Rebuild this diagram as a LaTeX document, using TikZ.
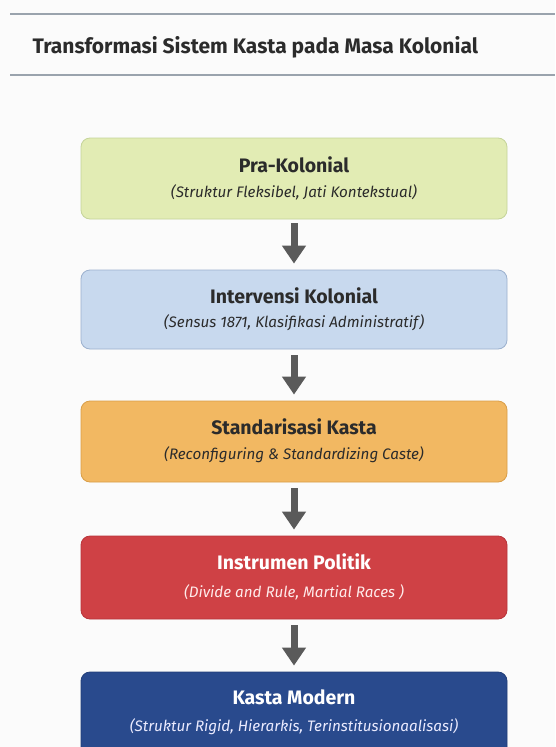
\documentclass[tikz,border=0pt]{standalone}
\usepackage{fontspec}
\setmainfont{Fira Sans}
\usetikzlibrary{arrows.meta}
\definecolor{bgc}{HTML}{FBFBFB}
\definecolor{rulec}{HTML}{9AA3AD}
\definecolor{titlec}{HTML}{2B2B2B}
\definecolor{gfill}{HTML}{E2ECB4}
\definecolor{gdraw}{HTML}{C5D49A}
\definecolor{bfill}{HTML}{C8D9EE}
\definecolor{bdraw}{HTML}{9CB1CE}
\definecolor{ofill}{HTML}{F2B862}
\definecolor{odraw}{HTML}{D99E48}
\definecolor{rfill}{HTML}{CF4145}
\definecolor{rdraw}{HTML}{B8343A}
\definecolor{dfill}{HTML}{294A8D}
\definecolor{ddraw}{HTML}{213E78}
\definecolor{arrowc}{HTML}{5A5A5A}
\tikzset{
  x=1pt, y=-1pt,
  stagebox/.style={draw, line width=0.8pt, rounded corners=9pt, minimum width=426pt, minimum height=81pt, inner sep=0pt},
  headtxt/.style={font=\fontsize{19.5}{22}\selectfont\bfseries},
  subtxt/.style={font=\fontsize{15.2}{18}\selectfont\itshape},
  flow/.style={draw=arrowc, line width=7pt, -{Triangle[width=23pt,length=18pt]}},
}
\begin{document}
\begin{tikzpicture}
\useasboundingbox (0,0) rectangle (555,747);
\fill[bgc] (0,0) rectangle (555,747);
\clip (0,0) rectangle (555,747);
% header rules
\coordinate (r1a) at (10,14); \coordinate (r1b) at (555,14);
\coordinate (r2a) at (10,75); \coordinate (r2b) at (555,75);
\draw[rulec, line width=1.2pt] (r1a) -- (r1b);
\draw[rulec, line width=1.2pt] (r2a) -- (r2b);
\node[anchor=west, text=titlec, font=\fontsize{21}{24}\selectfont\bfseries] (title) at (29,47) {Transformasi Sistem Kasta pada Masa Kolonial};
% boxes
\node[stagebox, fill=gfill, draw=gdraw] (b1) at (294,178.5) {};
\node[stagebox, fill=bfill, draw=bdraw, minimum height=79pt] (b2) at (294,309.5) {};
\node[stagebox, fill=ofill, draw=odraw] (b3) at (294,441.5) {};
\node[stagebox, fill=rfill, draw=rdraw, minimum height=83pt] (b4) at (294,577.5) {};
\node[stagebox, fill=dfill, draw=ddraw, minimum height=90pt] (b5) at (294,717) {};
% texts
\node[headtxt, text=titlec] (t1) at (294,165) {Pra-Kolonial};
\node[subtxt, text=titlec] (s1) at (294,192) {(Struktur Fleksibel, Jati Kontekstual)};
\node[headtxt, text=titlec] (t2) at (294,296) {Intervensi Kolonial};
\node[subtxt, text=titlec] (s2) at (294,323) {(Sensus 1871, Klasifikasi Administratif)};
\node[headtxt, text=titlec] (t3) at (294,427) {Standarisasi Kasta};
\node[subtxt, text=titlec] (s3) at (294,455) {(Reconfiguring \& Standardizing Caste)};
\node[headtxt, text=white] (t4) at (294,562) {Instrumen Politik};
\node[subtxt, text=white!92!red] (s4) at (294,592) {(Divide and Rule, Martial Races )};
\node[headtxt, text=white] (t5) at (294,697) {Kasta Modern};
\node[subtxt, text=white!92!blue] (s5) at (294,727) {(Struktur Rigid, Hierarkis, Terinstitusionaalisasi)};
% arrows
\draw[flow] ([yshift=-4pt]b1.south) -- ([yshift=6pt]b2.north);
\draw[flow] ([yshift=-6pt]b2.south) -- ([yshift=6pt]b3.north);
\draw[flow] ([yshift=-6pt]b3.south) -- ([yshift=6pt]b4.north);
\draw[flow] ([yshift=-6pt]b4.south) -- ([yshift=6pt]b5.north);
\end{tikzpicture}
\end{document}
